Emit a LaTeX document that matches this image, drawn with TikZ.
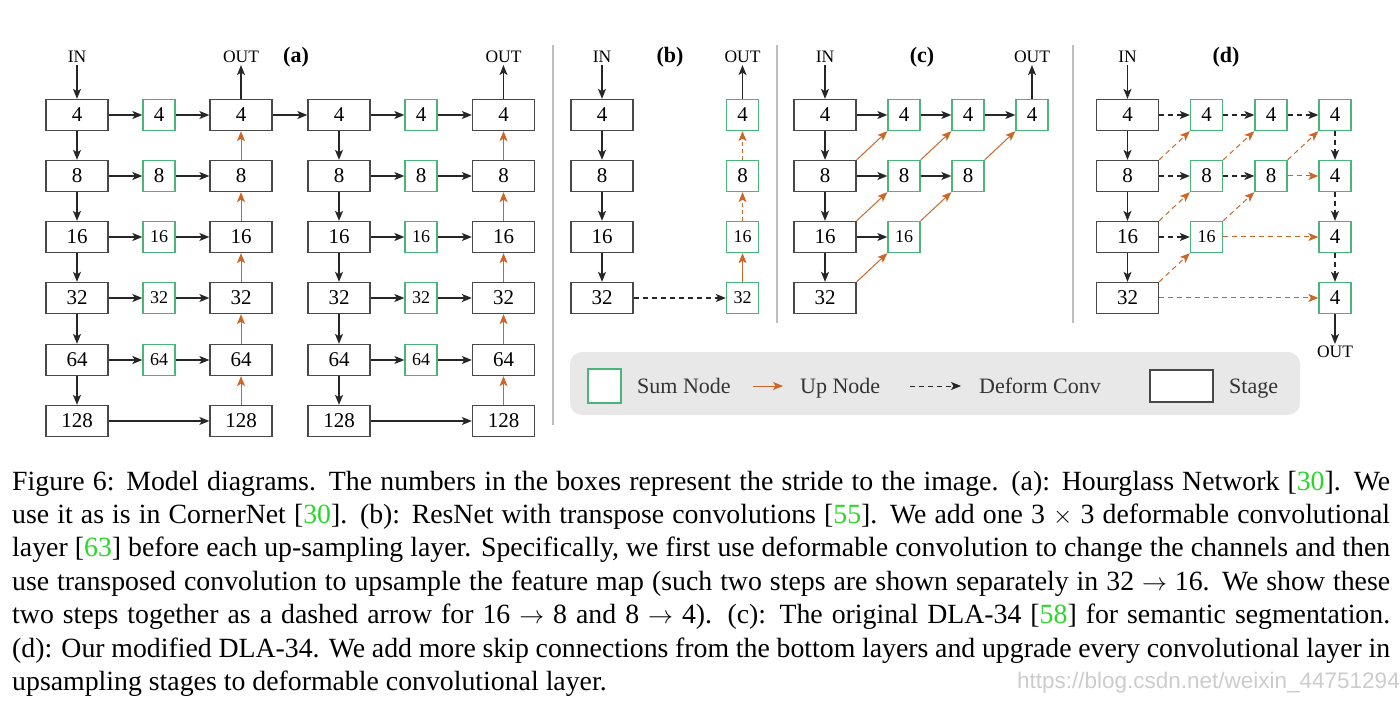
\documentclass[tikz,border=0pt]{standalone}
\usepackage{fontspec}
\setmainfont{Liberation Serif}
\newfontfamily\marksans{Liberation Sans}
\usetikzlibrary{arrows.meta}
\definecolor{sumgreen}{RGB}{72,182,122}
\definecolor{uporange}{RGB}{204,102,40}
\definecolor{stagegray}{RGB}{72,72,72}
\definecolor{sepgray}{RGB}{190,190,190}
\definecolor{legendgray}{RGB}{232,232,232}
\definecolor{citegreen}{RGB}{40,215,40}
\newcommand{\citeno}[1]{[{\color{citegreen}#1}]}
\newcommand{\sumlab}[1]{\ifnum#1>9 {\fontsize{18}{18}\selectfont#1}\else#1\fi}

\begin{document}
\begin{tikzpicture}[x=1pt, y=-1pt, >={Stealth[length=10pt,width=8pt,inset=2.5pt]},
    stage/.style={draw=stagegray, line width=1.3pt, fill=white, minimum width=62pt,
        minimum height=31pt, inner sep=0pt, font=\fontsize{21}{21}\selectfont},
    sumnode/.style={draw=sumgreen, line width=1.3pt, fill=white, minimum width=32pt,
        minimum height=31pt, inner sep=0pt, font=\fontsize{21}{21}\selectfont},
    io/.style={inner sep=2pt, font=\fontsize{17.5}{17.5}\selectfont},
    tag/.style={font=\fontsize{22}{22}\selectfont\bfseries},
    flow/.style={->, line width=1.2pt, draw=black!85},
    upnode/.style={->, line width=1pt, draw=uporange},
    deform/.style={dash pattern=on 5pt off 4pt},
    sepline/.style={draw=sepgray, line width=1.5pt}]
    \useasboundingbox (0,0) rectangle (1400,703);

    % separators
    \draw[sepline] (553,45) -- (553,425);
    \draw[sepline] (777,45) -- (777,323);
    \draw[sepline] (1073,45) -- (1073,323);

    % (a) two stacked hourglasses
    \foreach \lab/\y [count=\i] in {4/115, 8/176, 16/237, 32/298, 64/360, 128/421} {
        \node[stage] (ha\i) at (77,\y) {\lab};
        \node[stage] (hc\i) at (241,\y) {\lab};
        \node[stage] (hd\i) at (339,\y) {\lab};
        \node[stage] (hf\i) at (503.5,\y) {\lab};
    }
    \foreach \lab/\y [count=\i] in {4/115, 8/176, 16/237, 32/298, 64/360} {
        \node[sumnode] (hb\i) at (159,\y) {\sumlab{\lab}};
        \node[sumnode] (he\i) at (421,\y) {\sumlab{\lab}};
        \draw[flow] (ha\i) -- (hb\i);
        \draw[flow] (hb\i) -- (hc\i);
        \draw[flow] (hd\i) -- (he\i);
        \draw[flow] (he\i) -- (hf\i);
    }
    \foreach \i/\j in {1/2, 2/3, 3/4, 4/5, 5/6} {
        \draw[flow] (ha\i) -- (ha\j);
        \draw[flow] (hd\i) -- (hd\j);
        \draw[upnode] (hc\j) -- (hc\i);
        \draw[upnode] (hf\j) -- (hf\i);
    }
    \draw[flow] (ha6) -- (hc6);
    \draw[flow] (hd6) -- (hf6);
    \draw[flow] (hc1) -- (hd1);
    \node[io] (inA) at (77,57) {IN};
    \node[io] (outA) at (241,57) {OUT};
    \node[io] (outAA) at (503.5,57) {OUT};
    \node[tag] (tagA) at (296,57) {(a)};
    \draw[flow] (inA) -- (ha1);
    \draw[flow] (hc1) -- (outA);
    \draw[flow] (hf1) -- (outAA);

    % (b) resnet with transposed convolutions
    \foreach \lab/\y [count=\i] in {4/115, 8/176, 16/237, 32/298} {
        \node[stage] (rb\i) at (602,\y) {\lab};
        \node[sumnode] (sb\i) at (742.5,\y) {\sumlab{\lab}};
    }
    \foreach \i/\j in {1/2, 2/3, 3/4} \draw[flow] (rb\i) -- (rb\j);
    \draw[flow, deform] (rb4) -- (sb4);
    \draw[upnode] (sb4) -- (sb3);
    \draw[upnode, dash pattern=on 4pt off 3pt] (sb3) -- (sb2);
    \draw[upnode, dash pattern=on 4pt off 3pt] (sb2) -- (sb1);
    \node[io] (inB) at (602,57) {IN};
    \node[io] (outB) at (742.5,57) {OUT};
    \node[tag] (tagB) at (670,57) {(b)};
    \draw[flow] (inB) -- (rb1);
    \draw[flow] (sb1) -- (outB);

    % (c) original DLA-34
    \foreach \lab/\y [count=\i] in {4/115, 8/176, 16/237, 32/298}
        \node[stage] (dc\i) at (825,\y) {\lab};
    \node[sumnode] (gc11) at (904,115) {4};
    \node[sumnode] (gc12) at (968,115) {4};
    \node[sumnode] (gc13) at (1032,115) {4};
    \node[sumnode] (gc21) at (904,176) {8};
    \node[sumnode] (gc22) at (968,176) {8};
    \node[sumnode] (gc31) at (904,237) {\sumlab{16}};
    \foreach \i/\j in {1/2, 2/3, 3/4} \draw[flow] (dc\i) -- (dc\j);
    \draw[flow] (dc1) -- (gc11);
    \draw[flow] (gc11) -- (gc12);
    \draw[flow] (gc12) -- (gc13);
    \draw[flow] (dc2) -- (gc21);
    \draw[flow] (gc21) -- (gc22);
    \draw[flow] (dc3) -- (gc31);
    \draw[upnode] (dc2.north east) -- (gc11.south west);
    \draw[upnode] (dc3.north east) -- (gc21.south west);
    \draw[upnode] (dc4.north east) -- (gc31.south west);
    \draw[upnode] (gc21.north east) -- (gc12.south west);
    \draw[upnode] (gc31.north east) -- (gc22.south west);
    \draw[upnode] (gc22.north east) -- (gc13.south west);
    \node[io] (inC) at (825,57) {IN};
    \node[io] (outC) at (1032,57) {OUT};
    \node[tag] (tagC) at (922,57) {(c)};
    \draw[flow] (inC) -- (dc1);
    \draw[flow] (gc13) -- (outC);

    % (d) modified DLA-34
    \foreach \lab/\y [count=\i] in {4/115, 8/176, 16/237, 32/298}
        \node[stage] (dd\i) at (1127.5,\y) {\lab};
    \node[sumnode] (gd11) at (1206.5,115) {4};
    \node[sumnode] (gd12) at (1271,115) {4};
    \node[sumnode] (gd13) at (1335,115) {4};
    \node[sumnode] (gd21) at (1206.5,176) {8};
    \node[sumnode] (gd22) at (1271,176) {8};
    \node[sumnode] (gd23) at (1335,176) {4};
    \node[sumnode] (gd31) at (1206.5,237) {\sumlab{16}};
    \node[sumnode] (gd33) at (1335,237) {4};
    \node[sumnode] (gd43) at (1335,298) {4};
    \foreach \i/\j in {1/2, 2/3, 3/4} \draw[flow] (dd\i) -- (dd\j);
    \foreach \a/\b in {dd1/gd11, gd11/gd12, gd12/gd13, dd2/gd21, gd21/gd22, dd3/gd31,
        gd13/gd23, gd23/gd33, gd33/gd43}
        \draw[flow, deform] (\a) -- (\b);
    \foreach \a/\b in {dd2/gd11, dd3/gd21, dd4/gd31, gd21/gd12, gd31/gd22, gd22/gd13}
        \draw[upnode, deform] (\a.north east) -- (\b.south west);
    \foreach \a/\b in {gd22/gd23, gd31/gd33, dd4/gd43}
        \draw[upnode, deform] (\a) -- (\b);
    \node[io] (inD) at (1127.5,57) {IN};
    \node[io] (outD) at (1335,352) {OUT};
    \node[tag] (tagD) at (1226,57) {(d)};
    \draw[flow] (inD) -- (dd1);
    \draw[flow] (gd43) -- (outD);

    % legend
    \fill[legendgray, rounded corners=12pt] (570,352) rectangle (1300,415);
    \node[sumnode, minimum width=33pt, minimum height=34pt] (keySum) at (604.5,386) {};
    \node[anchor=base west, inner sep=0pt, font=\fontsize{22}{22}\selectfont, text=black!80]
        (keySumT) at (637,393) {Sum Node};
    \coordinate (keyUpL) at (753,386);
    \coordinate (keyUpR) at (783,386);
    \draw[upnode] (keyUpL) -- (keyUpR);
    \node[anchor=base west, inner sep=0pt, font=\fontsize{22}{22}\selectfont, text=black!80]
        (keyUpT) at (800,393) {Up Node};
    \coordinate (keyDfL) at (910,386);
    \coordinate (keyDfR) at (961,386);
    \draw[flow, deform, line width=1pt] (keyDfL) -- (keyDfR);
    \node[anchor=base west, inner sep=0pt, font=\fontsize{22}{22}\selectfont, text=black!80]
        (keyDfT) at (979,393) {Deform Conv};
    \node[stage, minimum width=63pt, minimum height=32pt] (keyStage) at (1181.5,386) {};
    \node[anchor=base west, inner sep=0pt, font=\fontsize{22}{22}\selectfont, text=black!80]
        (keyStageT) at (1229,393) {Stage};

    % caption
    \node[anchor=base west, inner sep=0pt, text width=1378pt, align=justify,
        font=\fontsize{27.8}{33.4}\selectfont] (caption) at (12,490)
        {Figure 6: Model diagrams. The numbers in the boxes represent the stride to the image. (a): Hourglass Network \citeno{30}. We\linebreak
        use it as is in CornerNet \citeno{30}. (b): ResNet with transpose convolutions \citeno{55}. We add one 3~$\times$~3 deformable convolutional\linebreak
        layer \citeno{63} before each up-sampling layer. Specifically, we first use deformable convolution to change the channels and then\linebreak
        use transposed convolution to upsample the feature map (such two steps are shown separately in 32~$\rightarrow$~16. We show these\linebreak
        two steps together as a dashed arrow for 16~$\rightarrow$~8 and 8~$\rightarrow$~4). (c): The original DLA-34 \citeno{58} for semantic segmentation.\linebreak
        (d): Our modified DLA-34. We add more skip connections from the bottom layers and upgrade every convolutional layer in\linebreak
        upsampling stages to deformable convolutional layer.};
    \node[anchor=east, inner sep=0pt, font=\marksans\fontsize{22.5}{22.5}\selectfont, text=gray!40]
        (mark) at (1400,683) {https://blog.csdn.net/weixin\_44751294};
\end{tikzpicture}
\end{document}
